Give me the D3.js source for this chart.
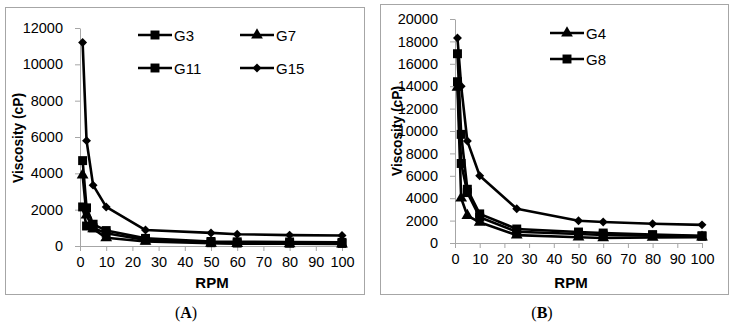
<!DOCTYPE html>
<html>
<head>
<meta charset="utf-8">
<script src="https://cdn.jsdelivr.net/npm/d3@7"></script>
<style>
  body { margin: 0; background: #fff; }
  svg { display: block; font-family: 'Liberation Sans', Arial, sans-serif; }
</style>
</head>
<body>
<svg width="731" height="324"></svg>
<script>
// rpm values shared by both panels
const rpm = [1, 2.5, 5, 10, 25, 50, 60, 80, 100]
const xTicks = [0, 10, 20, 30, 40, 50, 60, 70, 80, 90, 100]

// panel A
const g3 = [4700, 2100, 1200, 850, 420, 250, 230, 220, 200]
const g7 = [3900, 1700, 950, 450, 250, 150, 130, 120, 110]
const g11 = [2150, 1100, 1000, 700, 330, 180, 160, 150, 140]
const g15 = [11200, 5800, 3350, 2150, 880, 720, 650, 600, 580]
const yTicksA = [0, 2000, 4000, 6000, 8000, 10000, 12000]

// panel B (only G4 and G8 are in its legend)
const g4 = [13900, 4000, 2450, 1850, 700, 520, 450, 500, 520]
const g8 = [16900, 9700, 4800, 2600, 1250, 980, 890, 750, 650]
const g12 = [14400, 7100, 4500, 2300, 1000, 800, 720, 680, 600]
const g16 = [18300, 14000, 9100, 6000, 3050, 1980, 1880, 1720, 1620]
const yTicksB = [0, 2000, 4000, 6000, 8000, 10000, 12000, 14000, 16000, 18000, 20000]

const svg = d3.select('svg')
const grey = '#a6a6a6'

const symbols = {
  square: { type: d3.symbolSquare, size: 80, rotate: 0 },
  triangle: { type: d3.symbolTriangle, size: 60, rotate: 0 },
  diamond: { type: d3.symbolSquare, size: 40, rotate: 45 },
}

const drawPanel = (p) => {
  // outer frame
  svg.append('rect')
    .attr('x', p.box[0] + 0.5).attr('y', p.box[1] + 0.5)
    .attr('width', p.box[2] - p.box[0]).attr('height', p.box[3] - p.box[1])
    .attr('fill', 'none').attr('stroke', grey)

  const x = d3.scaleLinear().domain([0, 100]).range(p.xr)
  const y = d3.scaleLinear().domain([0, p.ymax]).range(p.yr)

  const xAxis = svg.append('g')
    .attr('transform', `translate(0,${p.yr[0]})`)
    .call(d3.axisBottom(x).tickValues(xTicks).tickSize(5).tickPadding(6).tickSizeOuter(0))
  const yAxis = svg.append('g')
    .attr('transform', `translate(${p.xr[0]},0)`)
    .call(d3.axisLeft(y).tickValues(p.yTicks).tickSize(5).tickPadding(12).tickSizeOuter(0).tickFormat(d3.format('d')))

  ;[xAxis, yAxis].forEach((a) => {
    a.selectAll('path, line').attr('stroke', grey)
    a.selectAll('text').attr('fill', '#000').style('font-size', '14.5px')
  })

  // axis titles
  svg.append('text')
    .attr('x', p.xlab[0]).attr('y', p.xlab[1])
    .attr('text-anchor', 'middle').style('font-weight', 'bold').style('font-size', '15px')
    .text('RPM')
  svg.append('text')
    .attr('transform', `translate(${p.ylab[0]},${p.ylab[1]}) rotate(-90)`)
    .attr('text-anchor', 'middle').style('font-weight', 'bold').style('font-size', '15px')
    .attr('textLength', 90).attr('lengthAdjust', 'spacingAndGlyphs')
    .text('Viscosity (cP)')

  const line = d3.line().x((d, i) => x(rpm[i])).y((d) => y(d))

  p.series.forEach((s) => {
    svg.append('path')
      .datum(s.values)
      .attr('d', line)
      .attr('fill', 'none').attr('stroke', '#000').attr('stroke-width', 2.6)
      .attr('stroke-linejoin', 'round')
    const sym = symbols[s.marker]
    svg.append('g').selectAll('path')
      .data(s.values)
      .join('path')
      .attr('d', d3.symbol().type(sym.type).size(sym.size))
      .attr('transform', (d, i) => `translate(${x(rpm[i])},${y(d)}) rotate(${sym.rotate})`)
      .attr('fill', '#000')
  })

  // legend
  p.legend.forEach((l) => {
    const sym = symbols[l.marker]
    svg.append('line')
      .attr('x1', l.pos[0]).attr('x2', l.pos[0] + 34)
      .attr('y1', l.pos[1]).attr('y2', l.pos[1])
      .attr('stroke', '#000').attr('stroke-width', 2.6)
    svg.append('path')
      .attr('d', d3.symbol().type(sym.type).size(sym.size))
      .attr('transform', `translate(${l.pos[0] + 17},${l.pos[1]}) rotate(${sym.rotate})`)
      .attr('fill', '#000')
    svg.append('text')
      .attr('x', l.pos[0] + 36).attr('y', l.pos[1] + 5.5)
      .style('font-size', '15px')
      .text(l.name)
  })

  svg.append('text')
    .attr('x', p.tag[0]).attr('y', p.tag[1])
    .attr('text-anchor', 'middle')
    .style('font-family', "'Liberation Serif', 'Times New Roman', serif")
    .style('font-size', '16px')
    .html('(<tspan font-weight="bold">' + p.tagText + '</tspan>)')
}

drawPanel({
  box: [5, 7, 364, 294],
  xr: [80, 342], yr: [246, 28], ymax: 12000, yTicks: yTicksA,
  xlab: [212, 288], ylab: [23, 138],
  series: [
    { name: 'G3', values: g3, marker: 'square' },
    { name: 'G7', values: g7, marker: 'triangle' },
    { name: 'G11', values: g11, marker: 'square' },
    { name: 'G15', values: g15, marker: 'diamond' },
  ],
  legend: [
    { name: 'G3', marker: 'square', pos: [138, 35] },
    { name: 'G7', marker: 'triangle', pos: [240, 35] },
    { name: 'G11', marker: 'square', pos: [138, 68] },
    { name: 'G15', marker: 'diamond', pos: [240, 68] },
  ],
  tag: [186, 318], tagText: 'A',
})

drawPanel({
  box: [380, 4, 728, 294],
  xr: [455, 702], yr: [243, 19], ymax: 20000, yTicks: yTicksB,
  xlab: [571, 288], ylab: [402, 131],
  series: [
    { name: 'G4', values: g4, marker: 'triangle' },
    { name: 'G8', values: g8, marker: 'square' },
    { name: 'G12', values: g12, marker: 'square' },
    { name: 'G16', values: g16, marker: 'diamond' },
  ],
  legend: [
    { name: 'G4', marker: 'triangle', pos: [550, 33] },
    { name: 'G8', marker: 'square', pos: [550, 59] },
  ],
  tag: [542, 318], tagText: 'B',
})
</script>
</body>
</html>
